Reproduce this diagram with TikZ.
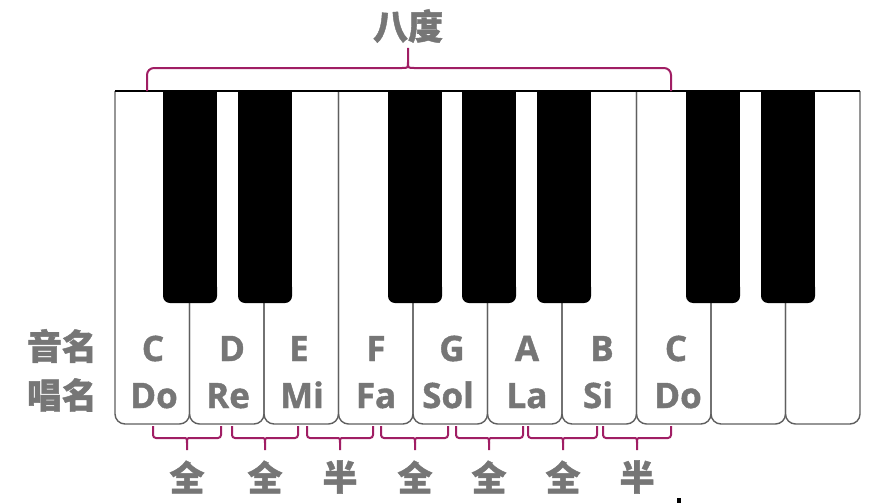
\documentclass[tikz,border=0pt]{standalone}
\usepackage{fontspec}
\newfontfamily\cjk{Noto Sans CJK SC}[BoldFeatures={FakeBold=1.2}]
\newfontfamily\lat{Open Sans}[BoldFeatures={FakeBold=1.2}]
\definecolor{txt}{RGB}{118,118,118}
\definecolor{brc}{RGB}{160,30,100}
\definecolor{keyline}{RGB}{95,95,95}
\begin{document}
\begin{tikzpicture}[x=1pt,y=-1pt,
  wkey/.style={draw=keyline,line width=1.4pt,rounded corners=10},
  bkey/.style={fill=black},
  brcline/.style={draw=brc,line width=2pt},
  latl/.style={text=txt,font=\lat\bfseries\fontsize{35}{40}\selectfont,inner sep=0pt,anchor=base},
  cjkl/.style={text=txt,font=\cjk\bfseries\fontsize{35}{40}\selectfont,inner sep=0pt}]
\useasboundingbox (0,0) rectangle (890,503);
\fill[white] (0,0) rectangle (890,503);
% white keys
\foreach \i in {0,...,9}{
  \pgfmathsetmacro\xa{115+74.5*\i}
  \pgfmathsetmacro\xb{\xa+74.5}
  \draw[wkey] (\xa,91) -- (\xa,424) -- (\xb,424) -- (\xb,91);
}
% black keys
\foreach \x in {163,238,388,462,537,686,761}{
  \fill[bkey] (\x,91) rectangle (\x+54,290);
  \fill[bkey,rounded corners=7] (\x,280) rectangle (\x+54,303);
}
% top edge
\draw[line width=2pt] (115,91) -- (860,91);
% octave brace
\draw[brcline] (408,48) -- (408,62) .. controls (408,68) .. (402,68) [rounded corners=7] -- (147,68) -- (147,91);
\draw[brcline] (408,62) .. controls (408,68) .. (414,68) [rounded corners=7] -- (671,68) -- (671,91);
\node[cjkl] (badu) at (408,26) {八度};
% step braces
\foreach \xa/\xb/\xm/\t/\n in {153/221/187/全/s1,232/298/265/全/s2,307/373/340/半/s3,381/448/415/全/s4,456/523/489/全/s5,528/597/563/全/s6,603/671/637/半/s7}{
  \draw[brcline] (\xm,450) -- (\xm,443) .. controls (\xm,438) .. (\xm-4,438) [rounded corners=3] -- (\xa,438) -- (\xa,426);
  \draw[brcline] (\xm,443) .. controls (\xm,438) .. (\xm+4,438) [rounded corners=3] -- (\xb,438) -- (\xb,426);
  \node[cjkl] (\n) at (\xm,477) {\t};
}
% row labels
\node[cjkl] (yinming) at (62,346) {音名};
\node[cjkl] (changming) at (62,395) {唱名};
\foreach \x/\t/\n in {153/C/a1,232/D/a2,299/E/a3,376/F/a4,452/G/a5,527/A/a6,602/B/a7,676/C/a8}{
  \node[latl] (\n) at (\x,361) {\t};
}
\foreach \x/\t/\n in {154/Do/b1,228/Re/b2,302/Mi/b3,376/Fa/b4,448/Sol/b5,527/La/b6,598/Si/b7,678/Do/b8}{
  \node[latl] (\n) at (\x,408) {\t};
}
% small mark at bottom
\fill[black] (677,498) rectangle (681,503);
\end{tikzpicture}
\end{document}
